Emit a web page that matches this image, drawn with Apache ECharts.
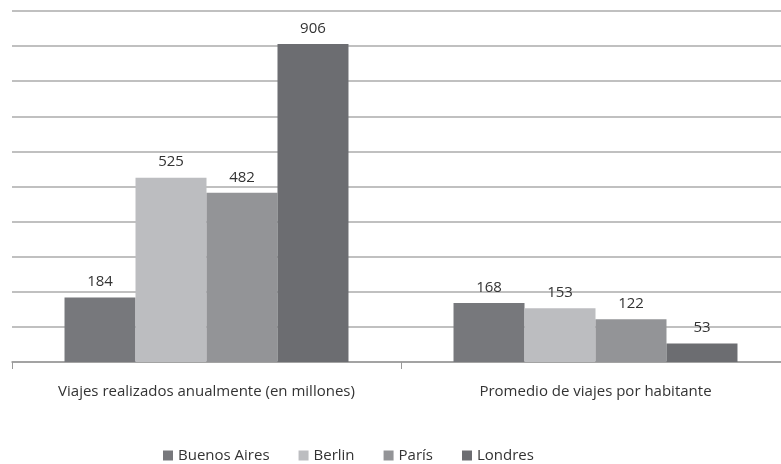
<!DOCTYPE html>
<html>
<head>
<meta charset="utf-8">
<script src="https://cdn.jsdelivr.net/npm/echarts@6/dist/echarts.min.js"></script>
<style>
  html, body { margin: 0; padding: 0; background: #fff; }
  #chart { width: 781px; height: 464px; }
</style>
</head>
<body>
<div id="chart"></div>
<script>
  // datos
  const categories = ['Viajes realizados anualmente (en millones)', 'Promedio de viajes por habitante']
  const cities = ['Buenos Aires', 'Berlin', 'París', 'Londres']
  const buenosAires = [184, 168]
  const berlin = [525, 153]
  const paris = [482, 122]
  const londres = [906, 53]

  const colors = ['#77787c', '#bcbdc0', '#939497', '#6c6d71']
  const font = '"Open Sans", sans-serif'

  let chart = echarts.init(document.getElementById('chart'))

  function bar(name, data) {
    return {
      name: name,
      type: 'bar',
      data: data,
      barGap: '0%',
      barCategoryGap: '27%',
      label: {
        show: true,
        position: 'top',
        distance: 8,
        color: '#333',
        fontSize: 15,
        fontFamily: font
      }
    }
  }

  let option = {
    color: colors,
    animation: false,
    textStyle: {fontFamily: font},
    // la categoría derecha sigue más allá del borde, como en el original
    grid: {left: 12, width: 778, top: 11, bottom: 102, outerBoundsMode: 'none'},
    legend: {
      data: cities,
      left: 158,
      top: 443,
      icon: 'rect',
      itemWidth: 10,
      itemHeight: 10,
      itemGap: 29,
      textStyle: {color: '#333', fontSize: 15, fontFamily: font}
    },
    xAxis: {
      type: 'category',
      data: categories,
      axisLine: {lineStyle: {color: '#999', width: 1.5}},
      axisTick: {show: true, length: 7, lineStyle: {color: '#999'}},
      axisLabel: {interval: 0, color: '#333', fontSize: 15, margin: 22, fontFamily: font}
    },
    yAxis: {
      type: 'value',
      min: 0,
      max: 1000,
      interval: 100,
      axisLabel: {show: false},
      axisLine: {show: false},
      axisTick: {show: false},
      splitLine: {lineStyle: {color: '#ababab', width: 1.5}}
    },
    series: [
      bar(cities[0], buenosAires),
      bar(cities[1], berlin),
      bar(cities[2], paris),
      bar(cities[3], londres)
    ]
  }
  chart.setOption(option)
</script>
</body>
</html>
